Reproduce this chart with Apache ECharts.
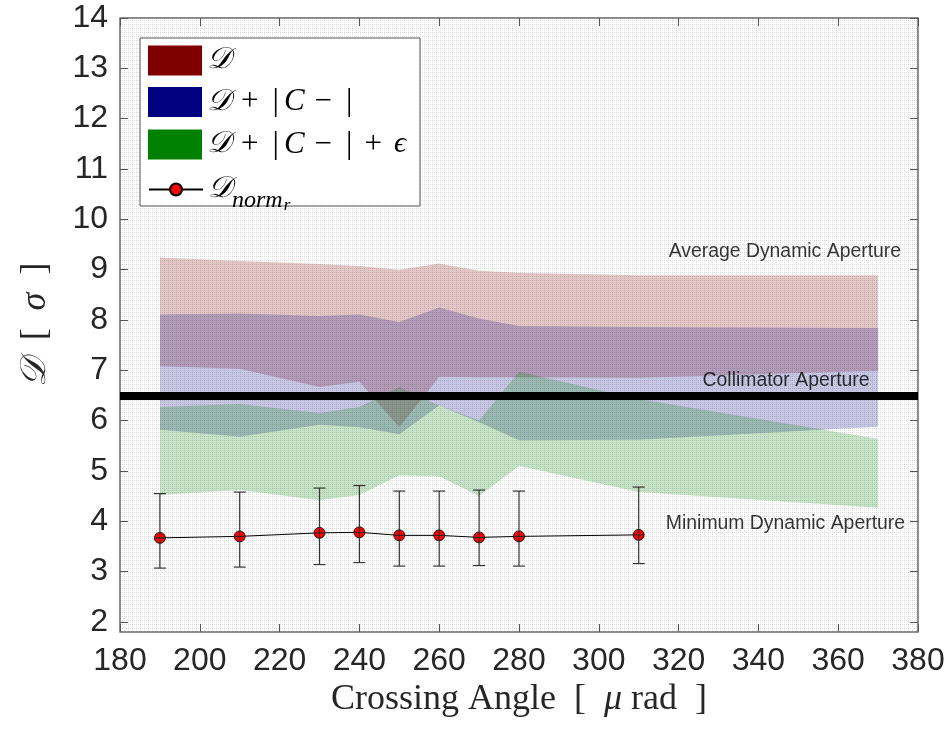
<!DOCTYPE html>
<html>
<head>
<meta charset="utf-8">
<script src="https://cdn.jsdelivr.net/npm/echarts@6/dist/echarts.min.js"></script>
<style>
html, body { margin: 0; padding: 0; background: #fff; }
#chart { width: 949px; height: 729px; }
</style>
</head>
<body>
<div id="chart"></div>
<script>
// crossing angles where the aperture bands were sampled
const bandX = [190, 210, 230, 240, 250, 260, 270, 280, 310, 370];
// D
const dLow = [7.08, 7.03, 6.67, 6.77, 5.87, 6.87, 6.86, 6.86, 6.85, 6.99];
const dHigh = [9.24, 9.17, 9.11, 9.07, 9.00, 9.12, 8.98, 8.94, 8.89, 8.89];
// D + |C-|
const dcLow = [5.82, 5.68, 5.92, 5.87, 5.73, 6.30, 5.97, 5.61, 5.62, 5.88];
const dcHigh = [8.11, 8.13, 8.08, 8.11, 7.96, 8.25, 8.03, 7.88, 7.86, 7.84];
// D + |C-| + eps
const dceLow = [4.52, 4.62, 4.42, 4.52, 4.91, 4.89, 4.50, 5.10, 4.58, 4.27];
const dceHigh = [6.27, 6.33, 6.15, 6.27, 6.67, 6.30, 6.00, 6.97, 6.43, 5.64];

// D_norm_r with error bars
const normX = [190, 210, 230, 240, 250, 260, 270, 280, 310];
const normY = [3.67, 3.70, 3.77, 3.78, 3.72, 3.72, 3.68, 3.70, 3.73];
const normLow = [3.07, 3.09, 3.14, 3.18, 3.11, 3.11, 3.12, 3.11, 3.16];
const normHigh = [4.55, 4.58, 4.66, 4.71, 4.60, 4.60, 4.62, 4.60, 4.68];

const collimator = 6.5;

const yTicks = [2, 3, 4, 5, 6, 7, 8, 9, 10, 11, 12, 13, 14];

const noteText = ['Average Dynamic Aperture', 'Collimator Aperture', 'Minimum Dynamic Aperture'];
const noteX = [317.5, 326, 316.8];
const noteY = [9.35, 6.8, 3.95];

const serif = "'Liberation Serif', 'DejaVu Serif', serif";
const sans = "'Liberation Sans', Helvetica, Arial, sans-serif";

function dotPattern() {
    const c = document.createElement('canvas');
    c.width = 4;
    c.height = 4;
    const ctx = c.getContext('2d');
    ctx.fillStyle = '#ffffff';
    ctx.fillRect(0, 0, 4, 4);
    ctx.fillStyle = '#dadada';
    ctx.fillRect(0, 0, 1, 1);
    ctx.fillRect(2, 0, 1, 1);
    ctx.fillRect(0, 2, 1, 1);
    return c;
}

// one filled polygon per band, upper edge then lower edge backwards
function bandRenderer(fill) {
    return function (params, api) {
        if (params.dataIndex !== 0) return null;
        const n = params.dataInsideLength;
        const top = [];
        const bottom = [];
        for (let j = 0; j < n; j++) {
            top.push(api.coord([api.value(0, j), api.value(2, j)]));
            bottom.push(api.coord([api.value(0, j), api.value(1, j)]));
        }
        return {
            type: 'polygon',
            shape: { points: top.concat(bottom.reverse()) },
            style: { fill: fill }
        };
    };
}

function bandData(lo, hi) {
    return bandX.map(function (x, i) { return [x, lo[i], hi[i]]; });
}

const legendLabels = {
    'D': '{m|𝒟}',
    'DC': '{m|𝒟}{o|+}{b||}{c|C}{o|−}{b||}',
    'DCE': '{m|𝒟}{o|+}{b||}{c|C}{o|−}{b||}{o|+}{m|ϵ}',
    'Dnorm': '{m|𝒟}{s|norm}{t|r}'
};

const legendRich = {
    m: { fontFamily: serif, fontStyle: 'italic', fontSize: 30, color: '#000' },
    c: { fontFamily: serif, fontStyle: 'italic', fontSize: 31, color: '#000', padding: [0, 0, 0, 3] },
    o: { fontFamily: serif, fontSize: 31, color: '#000', padding: [0, 12, 0, 10] },
    b: { fontFamily: serif, fontSize: 32, color: '#000', padding: [0, 2, 0, 2] },
    s: { fontFamily: serif, fontStyle: 'italic', fontSize: 24, color: '#000', padding: [22, 0, 0, 0] },
    t: { fontFamily: serif, fontStyle: 'italic', fontSize: 17, color: '#000', padding: [33, 0, 0, 1] }
};

const titleRich = {
    i: { fontFamily: serif, fontStyle: 'italic', fontSize: 36, color: '#262626' }
};

const chart = echarts.init(document.getElementById('chart'));

const option = {
    animation: false,
    backgroundColor: '#fff',
    grid: {
        left: 120,
        right: 31,
        top: 18,
        bottom: 97,
        show: true,
        backgroundColor: { image: dotPattern(), repeat: 'repeat' },
        borderColor: '#6a6a6a',
        borderWidth: 1.5
    },
    graphic: [{
        type: 'rect',
        left: 139.5,
        top: 37.5,
        shape: { width: 280, height: 168 },
        style: { fill: '#fff', stroke: '#555', lineWidth: 1 },
        z: 4
    }],
    legend: [{
        data: [
            { name: 'D', icon: 'rect' },
            { name: 'DC', icon: 'rect' },
            { name: 'DCE', icon: 'rect' }
        ],
        orient: 'vertical',
        left: 148,
        top: 45.5,
        padding: 0,
        itemWidth: 54,
        itemHeight: 30,
        itemGap: 10.5,
        selectedMode: false,
        z: 5,
        formatter: function (name) { return legendLabels[name]; },
        textStyle: { rich: legendRich }
    }, {
        data: [{ name: 'Dnorm' }],
        orient: 'vertical',
        left: 148,
        top: 174.5,
        padding: 0,
        itemWidth: 54,
        itemHeight: 15,
        selectedMode: false,
        z: 5,
        formatter: function (name) { return legendLabels[name]; },
        textStyle: { rich: legendRich }
    }],
    xAxis: [{
        type: 'value',
        min: 180,
        max: 380,
        interval: 20,
        position: 'bottom',
        name: 'Crossing Angle  [  {i|μ} rad  ]',
        nameLocation: 'middle',
        nameGap: 46,
        nameTextStyle: { fontFamily: serif, fontSize: 36, color: '#262626', rich: titleRich },
        axisLine: { show: false },
        axisTick: { inside: true, length: 8, lineStyle: { color: '#555', width: 1 } },
        axisLabel: { fontFamily: sans, fontSize: 32, color: '#262626', margin: 13 },
        splitLine: { show: false }
    }, {
        type: 'value',
        min: 180,
        max: 380,
        interval: 20,
        position: 'top',
        axisLine: { show: false },
        axisTick: { inside: true, length: 8, lineStyle: { color: '#555', width: 1 } },
        axisLabel: { show: false },
        splitLine: { show: false }
    }],
    yAxis: [{
        type: 'value',
        min: 1.8,
        max: 14,
        position: 'left',
        name: '{i|𝒟}  [  {i|σ}  ]',
        nameLocation: 'middle',
        nameRotate: 90,
        nameGap: 66,
        nameTextStyle: { fontFamily: serif, fontSize: 36, color: '#262626', rich: titleRich },
        axisLine: { show: false },
        axisTick: { inside: true, length: 8, customValues: yTicks, lineStyle: { color: '#555', width: 1 } },
        axisLabel: { fontFamily: sans, fontSize: 32, color: '#262626', margin: 12, customValues: yTicks },
        splitLine: { show: false }
    }, {
        type: 'value',
        min: 1.8,
        max: 14,
        position: 'right',
        axisLine: { show: false },
        axisTick: { inside: true, length: 8, customValues: yTicks, lineStyle: { color: '#555', width: 1 } },
        axisLabel: { show: false, customValues: yTicks },
        splitLine: { show: false }
    }],
    series: [
        {
            name: 'D',
            type: 'custom',
            renderItem: bandRenderer('rgba(128, 0, 0, 0.22)'),
            itemStyle: { color: '#800000' },
            encode: { x: 0, y: [1, 2] },
            data: bandData(dLow, dHigh),
            z: 2
        },
        {
            name: 'DC',
            type: 'custom',
            renderItem: bandRenderer('rgba(0, 0, 128, 0.22)'),
            itemStyle: { color: '#000080' },
            encode: { x: 0, y: [1, 2] },
            data: bandData(dcLow, dcHigh),
            z: 2
        },
        {
            name: 'DCE',
            type: 'custom',
            renderItem: bandRenderer('rgba(0, 128, 0, 0.22)'),
            itemStyle: { color: '#008000' },
            encode: { x: 0, y: [1, 2] },
            data: bandData(dceLow, dceHigh),
            z: 2
        },
        {
            name: 'Dnorm',
            type: 'line',
            data: normX.map(function (x, i) { return [x, normY[i]]; }),
            symbol: 'circle',
            symbolSize: 11,
            itemStyle: { color: '#ff0000', borderColor: '#000', borderWidth: 0.8 },
            lineStyle: { color: '#000', width: 1 },
            z: 3,
            markLine: {
                silent: true,
                symbol: 'none',
                label: { show: false },
                lineStyle: { color: '#000', width: 8, type: 'solid' },
                data: [{ yAxis: collimator }]
            }
        },
        {
            name: 'errorbars',
            type: 'custom',
            data: normX.map(function (x, i) { return [x, normLow[i], normHigh[i], normY[i]]; }),
            encode: { x: 0, y: [1, 2] },
            z: 4,
            renderItem: function (params, api) {
                const x = api.value(0);
                const lo = api.coord([x, api.value(1)]);
                const hi = api.coord([x, api.value(2)]);
                const mid = api.coord([x, api.value(3)]);
                const cap = 6;
                const st = { stroke: '#333', lineWidth: 1.2 };
                return {
                    type: 'group',
                    children: [
                        { type: 'line', shape: { x1: lo[0], y1: lo[1], x2: hi[0], y2: hi[1] }, style: st },
                        { type: 'line', shape: { x1: lo[0] - cap, y1: lo[1], x2: lo[0] + cap, y2: lo[1] }, style: st },
                        { type: 'line', shape: { x1: hi[0] - cap, y1: hi[1], x2: hi[0] + cap, y2: hi[1] }, style: st },
                        { type: 'line', shape: { x1: mid[0] - 5, y1: mid[1], x2: mid[0] + 5, y2: mid[1] }, style: { stroke: '#222', lineWidth: 1 } }
                    ]
                };
            }
        },
        {
            name: 'notes',
            type: 'scatter',
            symbolSize: 0,
            z: 6,
            data: noteText.map(function (t, i) { return [noteX[i], noteY[i], t]; }),
            label: {
                show: true,
                position: 'right',
                distance: 0,
                formatter: function (p) { return p.value[2]; },
                fontFamily: sans,
                fontSize: 19.4,
                color: '#000'
            }
        }
    ]
};

chart.setOption(option);
</script>
</body>
</html>
